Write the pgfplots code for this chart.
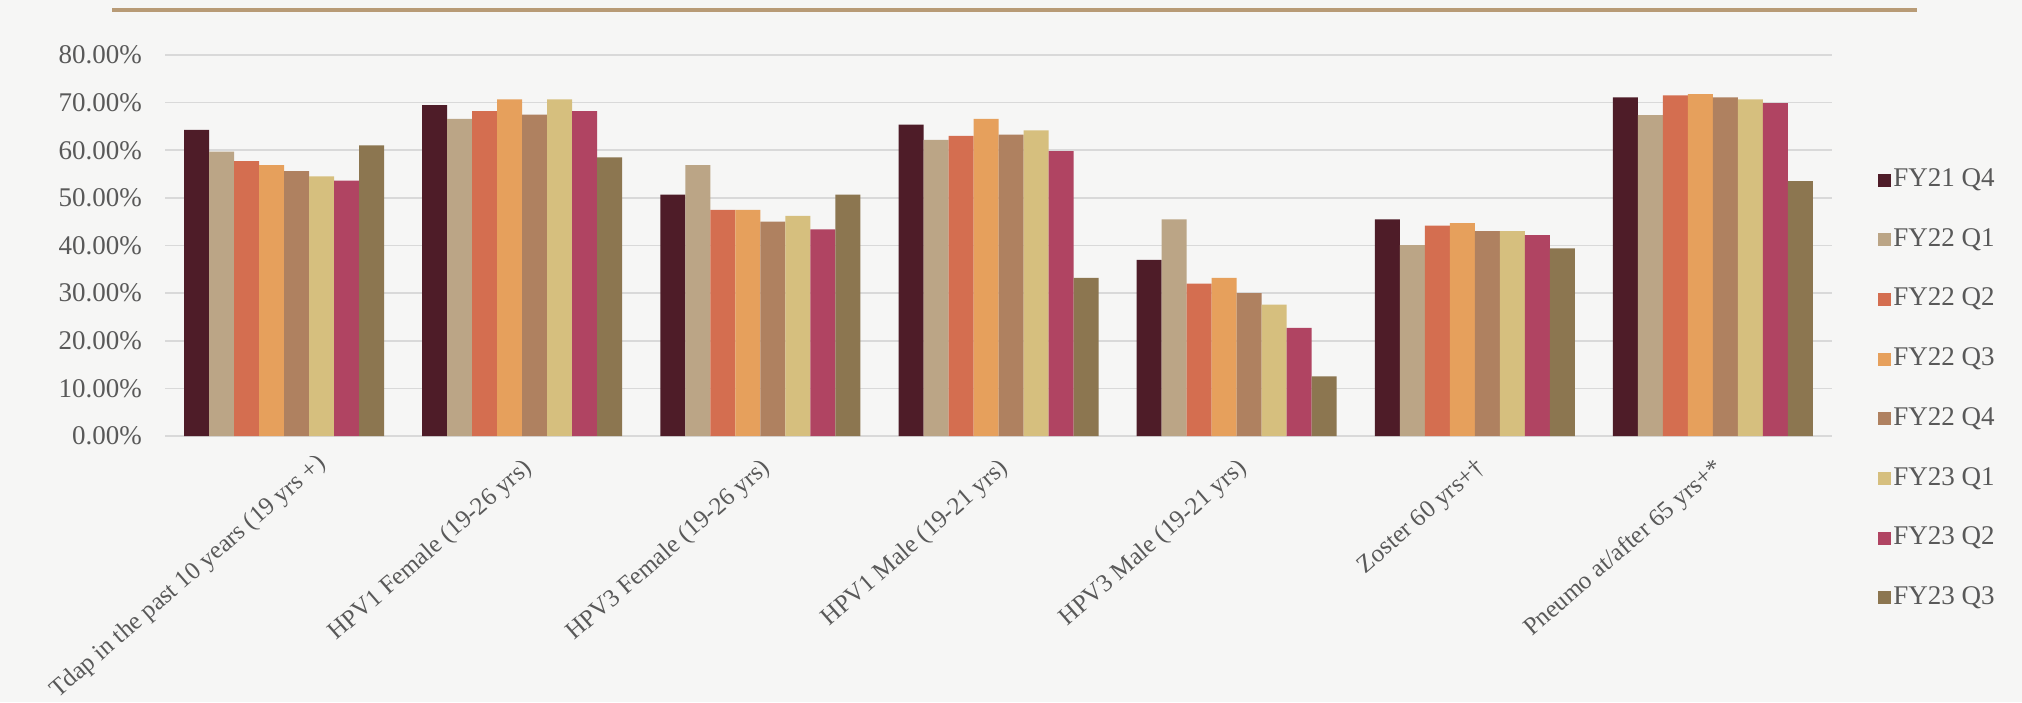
\documentclass[border=0pt]{standalone}
\usepackage{pgfplots}
\pgfplotsset{compat=1.18}
\usepackage{fontspec}
\setmainfont{Liberation Serif}

\definecolor{bgcol}{RGB}{246,246,245}
\definecolor{topline}{RGB}{184,155,118}
\definecolor{gridcol}{RGB}{217,217,217}
\definecolor{txtcol}{RGB}{89,89,89}
\definecolor{cA}{RGB}{78,28,40}
\definecolor{cB}{RGB}{187,165,134}
\definecolor{cC}{RGB}{212,110,80}
\definecolor{cD}{RGB}{230,160,92}
\definecolor{cE}{RGB}{175,129,96}
\definecolor{cF}{RGB}{214,191,126}
\definecolor{cG}{RGB}{176,68,98}
\definecolor{cH}{RGB}{140,118,80}

\begin{document}
\begin{tikzpicture}
\fill[bgcol] (0,0) rectangle (1011pt,351pt);
\draw[topline, line width=2pt] (56pt,346pt) -- (958.5pt,346pt);

\begin{axis}[
    at={(82.5pt,133pt)}, anchor=south west,
    scale only axis, width=833.5pt, height=190.5pt,
    ybar=0pt, bar width=12.5pt,
    xmin=-0.5, xmax=6.5, ymin=0, ymax=80,
    xtick={0,...,6},
    % the first label is nudged right (as in the original) so it stays on the page
    xticklabels={{},
                 HPV1 Female (19-26 yrs),
                 HPV3 Female (19-26 yrs),
                 HPV1 Male (19-21 yrs),
                 HPV3 Male (19-21 yrs),
                 Zoster 60 yrs+†,
                 Pneumo at/after 65 yrs+*},
    extra x ticks={0.15},
    extra x tick labels={Tdap in the past 10 years (19 yrs +)},
    extra x tick style={xticklabel style={yshift=3pt}},
    ytick={0,10,...,80},
    /pgf/number format/assume math mode=true,
    yticklabel={\pgfmathprintnumber[fixed,fixed zerofill,precision=2]{\tick}\%},
    yticklabel style={font=\fontsize{13.5}{15}\selectfont, text=txtcol, xshift=-8pt},
    xticklabel style={font=\fontsize{12.5}{14}\selectfont, text=txtcol,
                      yshift=-5.5pt, rotate=41, anchor=north east},
    ymajorgrids, grid style={draw=gridcol, line width=0.8pt},
    axis line style={draw=none}, major tick length=0pt,
    legend style={at={(1.0276,0.711)}, anchor=north west, draw=none, fill=none,
                  inner sep=0pt, row sep=15.35pt,
                  font=\fontsize{13.5}{16}\selectfont, text=txtcol,
                  nodes={inner sep=1pt, text height=9.5pt, text depth=3pt}},
    legend cell align=left,
    legend image code/.code={\fill[#1] (-2pt,-3.25pt) rectangle (4.5pt,3.25pt);},
    every axis plot/.append style={draw=none},
]
% FY21 Q4
\addplot[fill=cA] coordinates {(0,64.3) (1,69.5) (2,50.7) (3,65.4) (4,37.0) (5,45.5) (6,71.1)};
\addlegendentry{FY21 Q4}
% FY22 Q1
\addplot[fill=cB] coordinates {(0,59.7) (1,66.6) (2,56.9) (3,62.2) (4,45.5) (5,40.1) (6,67.4)};
\addlegendentry{FY22 Q1}
% FY22 Q2
\addplot[fill=cC] coordinates {(0,57.7) (1,68.2) (2,47.5) (3,63.0) (4,32.0) (5,44.2) (6,71.5)};
\addlegendentry{FY22 Q2}
% FY22 Q3
\addplot[fill=cD] coordinates {(0,56.9) (1,70.7) (2,47.5) (3,66.6) (4,33.2) (5,44.7) (6,71.8)};
\addlegendentry{FY22 Q3}
% FY22 Q4
\addplot[fill=cE] coordinates {(0,55.6) (1,67.5) (2,45.0) (3,63.3) (4,30.0) (5,43.0) (6,71.1)};
\addlegendentry{FY22 Q4}
% FY23 Q1
\addplot[fill=cF] coordinates {(0,54.5) (1,70.7) (2,46.2) (3,64.2) (4,27.6) (5,43.0) (6,70.7)};
\addlegendentry{FY23 Q1}
% FY23 Q2
\addplot[fill=cG] coordinates {(0,53.6) (1,68.2) (2,43.4) (3,59.8) (4,22.7) (5,42.2) (6,69.9)};
\addlegendentry{FY23 Q2}
% FY23 Q3
\addplot[fill=cH] coordinates {(0,61.0) (1,58.5) (2,50.7) (3,33.2) (4,12.5) (5,39.4) (6,53.5)};
\addlegendentry{FY23 Q3}
\end{axis}

\pgfresetboundingbox
\path[use as bounding box] (0,0) rectangle (1011pt,351pt);
\end{tikzpicture}
\end{document}
